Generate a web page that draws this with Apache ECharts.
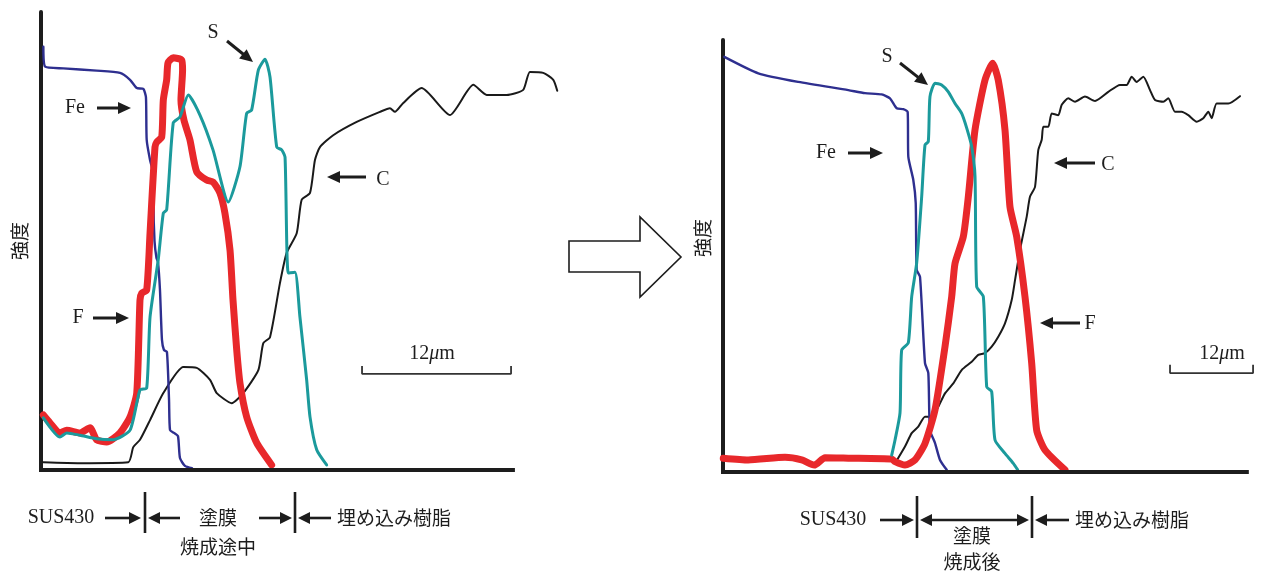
<!DOCTYPE html>
<html><head><meta charset="utf-8">
<script src="https://cdn.jsdelivr.net/npm/echarts@6/dist/echarts.min.js"></script>
<style>html,body{margin:0;padding:0;background:#fff}#c{width:1284px;height:572px}</style>
</head><body><div id="c"></div>
<script>
// ---- Data: position (μm) vs intensity (a.u., 0-100) ----
// Left panel: 塗膜焼成途中
const leftFe = [[0.19,92.4],[0.32,88.1],[1.80,87.7],[4.48,87.2],[6.36,86.7],[7.17,85.2],[7.71,83.4],[8.24,83.2],[8.45,81.4],[8.51,72.1],[8.78,67.7],[9.10,64.0],[9.06,58.7],[9.14,50.0],[9.30,46.3],[9.42,45.4],[9.58,39.3],[9.74,28.4],[9.90,26.2],[10.14,25.8],[10.31,15.3],[10.39,8.7],[10.71,8.1],[11.03,7.4],[11.19,2.6],[11.59,0.9],[12.16,0.4]];
const leftF = [[0.19,12.0],[0.72,10.3],[1.53,8.1],[2.07,8.7],[3.14,8.1],[3.95,9.2],[4.48,6.6],[5.29,6.1],[6.36,8.1],[7.17,11.6],[7.71,16.8],[7.97,37.1],[8.11,38.6],[8.51,39.3],[8.78,51.7],[9.18,70.5],[9.32,71.6],[9.72,72.7],[9.85,80.8],[10.12,85.2],[10.23,88.9],[10.65,90.0],[11.33,89.5],[11.40,87.3],[11.27,80.8],[11.51,76.4],[11.99,72.1],[12.54,65.1],[13.34,63.3],[13.85,62.9],[14.41,60.5],[14.81,56.1],[15.22,48.0],[15.46,37.1],[15.76,26.2],[16.02,19.0],[16.56,11.6],[17.37,5.9],[18.57,1.1]];
const leftS = [[0.19,11.4],[1.53,7.2],[2.07,8.1],[3.14,7.6],[4.48,6.8],[5.80,6.6],[7.17,8.7],[7.97,17.5],[8.51,17.9],[8.78,33.4],[9.44,45.9],[9.85,56.1],[10.12,56.8],[10.65,75.8],[11.19,77.1],[11.86,81.9],[12.80,77.5],[13.85,69.9],[15.08,58.5],[16.02,66.2],[16.56,77.9],[16.96,78.6],[17.50,87.3],[18.04,89.7],[18.44,85.8],[18.98,70.5],[19.38,69.9],[19.65,68.3],[19.91,43.0],[20.45,43.2],[20.85,33.4],[21.39,19.7],[21.66,11.6],[22.20,4.4],[23.00,1.1]];
const leftC = [[0.19,1.7],[3.14,1.5],[7.03,1.7],[7.43,5.0],[7.97,6.6],[8.78,10.9],[9.85,16.8],[11.46,22.5],[12.54,22.3],[13.61,19.7],[14.15,16.8],[15.35,14.6],[16.29,16.8],[17.50,21.8],[17.90,27.7],[18.44,29.0],[19.24,40.8],[19.78,47.4],[20.59,51.7],[20.99,59.0],[21.66,60.5],[22.06,67.7],[22.46,70.5],[23.53,73.1],[25.42,76.0],[27.29,78.2],[28.10,79.0],[28.50,78.2],[29.15,80.1],[30.65,83.4],[32.93,77.5],[34.81,84.1],[35.89,81.9],[37.50,81.9],[38.83,83.0],[39.37,86.9],[40.44,86.7],[41.25,85.2],[41.57,82.8]];
const leftScale = [[25.85,22.7],[25.85,21.0],[37.85,21.0],[37.85,22.7]];
const leftAxisEnd = 38;

// Right panel: 塗膜焼成後
const rightFe = [[0.19,96.1],[5.10,92.3],[10.88,90.3],[18.11,88.4],[20.52,87.7],[22.93,87.4],[24.13,86.5],[25.10,84.2],[26.05,84.0],[26.69,83.3],[26.78,73.0],[27.50,67.6],[27.85,62.3],[27.99,46.8],[28.47,45.2],[29.19,25.2],[29.67,22.9],[29.91,9.7],[30.64,6.7],[31.36,2.8],[32.33,0.5]];
const rightS = [[24.38,3.9],[24.86,7.4],[25.58,13.7],[25.82,28.2],[26.78,29.9],[27.27,40.6],[27.99,48.4],[28.71,63.7],[29.19,75.7],[29.67,76.5],[29.91,86.9],[30.64,90.0],[31.60,89.6],[32.56,88.0],[33.53,85.3],[34.49,83.0],[35.22,79.6],[35.94,75.3],[36.42,68.4],[36.66,42.9],[37.62,40.6],[38.11,19.7],[38.83,18.6],[39.31,7.4],[40.75,4.3],[41.95,2.0],[42.59,0.5]];
const rightF = [[0.04,3.2],[3.66,2.8],[8.96,3.4],[11.37,2.8],[13.19,1.6],[14.74,3.3],[18.11,3.2],[24.38,3.0],[24.86,2.4],[26.30,1.6],[27.75,2.8],[29.19,6.6],[30.64,14.4],[32.08,29.0],[33.05,40.6],[33.53,48.3],[34.73,54.5],[35.45,63.7],[36.42,79.2],[37.86,90.7],[38.97,94.6],[39.78,90.7],[40.75,79.2],[41.47,61.4],[42.44,54.5],[43.64,40.6],[44.61,25.2],[45.33,9.7],[46.53,5.1],[49.42,0.5]];
const rightC = [[24.86,2.0],[26.30,5.9],[27.27,9.0],[28.22,10.5],[29.19,12.8],[30.16,12.8],[31.11,15.1],[32.08,18.2],[33.28,20.5],[34.49,23.6],[35.94,25.5],[36.89,27.1],[37.86,27.5],[38.83,29.0],[39.78,31.3],[40.75,34.4],[41.72,39.8],[42.20,44.4],[42.92,51.4],[43.89,59.1],[44.36,63.7],[45.09,66.0],[45.56,74.5],[46.06,76.9],[46.29,79.9],[47.01,79.9],[47.50,83.0],[48.45,82.6],[48.95,85.0],[49.90,86.5],[50.87,85.7],[52.31,86.9],[53.76,85.9],[55.68,88.0],[57.37,89.6],[58.34,89.6],[59.06,91.5],[59.78,90.3],[60.74,91.5],[61.71,88.4],[62.43,86.1],[63.63,85.7],[64.35,86.5],[65.32,83.4],[66.29,83.4],[67.24,82.6],[68.45,81.1],[69.41,81.9],[70.13,83.4],[70.62,81.9],[71.34,85.3],[73.02,85.3],[74.71,87.0]];
const rightScale = [[64.6,24.8],[64.6,22.9],[76.6,22.9],[76.6,24.8]];
const rightAxisEnd = 75.7;

const scaleLabel = '12{i|μ}m';
const yLabel = '強度';
const bottomLeft = {sub: 'SUS430', film: ['塗膜', '焼成途中'], resin: '埋め込み樹脂'};
const bottomRight = {sub: 'SUS430', film: ['塗膜', '焼成後'], resin: '埋め込み樹脂'};

// ---- Styles ----
const SERIF = "'Liberation Serif','DejaVu Serif',serif";
const CJK = "'Noto Sans CJK JP','Noto Sans CJK SC',sans-serif";
const INK = '#1d1d1d';
const COL = {Fe: '#2e2f8f', S: '#1b9a9c', F: '#e8282b', C: '#1a1a1a'};
const W = {Fe: 2.4, S: 3, F: 7, C: 2};

function axisX(grid, max) {
  return {type: 'value', gridIndex: grid, min: 0, max: max,
    axisLine: {show: false}, axisTick: {show: false}, axisLabel: {show: false}, splitLine: {show: false}};
}
function axisY(grid) {
  return {type: 'value', gridIndex: grid, min: 0, max: 100,
    axisLine: {show: true, lineStyle: {color: INK, width: 4}},
    axisTick: {show: false}, axisLabel: {show: false}, splitLine: {show: false}};
}
function curve(name, data, gi, key, z) {
  return {type: 'line', name: name, xAxisIndex: gi, yAxisIndex: gi, data: data,
    showSymbol: false, symbol: 'none', smooth: 0.2, clip: false, silent: true, z: z,
    lineStyle: {color: COL[key], width: W[key], cap: 'round', join: 'round'}};
}
function scaleBar(data, gi) {
  return {type: 'line', xAxisIndex: gi, yAxisIndex: gi, data: data, showSymbol: false,
    symbol: 'none', clip: false, silent: true, z: 5,
    lineStyle: {color: '#333', width: 1.8}};
}
function baseline(end, gi) {
  return {type: 'line', xAxisIndex: gi, yAxisIndex: gi, data: [[0, 0], [end, 0]], showSymbol: false,
    symbol: 'none', clip: false, silent: true, z: 10,
    lineStyle: {color: INK, width: 4, cap: 'square'}};
}

// annotation helpers (pixel layer)
const G = [];
function arrow(x1, y1, x2, y2, lw, hl, hw) {
  lw = lw || 3; hl = hl || 13; hw = hw || 6;
  const dx = x2 - x1, dy = y2 - y1, L = Math.hypot(dx, dy);
  const ux = dx / L, uy = dy / L, nx = -uy, ny = ux;
  const bx = x2 - ux * hl, by = y2 - uy * hl;
  G.push({type: 'line', shape: {x1: x1, y1: y1, x2: bx + ux, y2: by + uy}, style: {stroke: INK, lineWidth: lw}, z: 100});
  G.push({type: 'polygon', shape: {points: [[x2, y2], [bx + nx * hw, by + ny * hw], [bx - nx * hw, by - ny * hw]]}, style: {fill: INK}, z: 100});
}
function text(str, x, y, font, align, rot, rich) {
  G.push({type: 'text', x: x, y: y, rotation: rot || 0, z: 100,
    style: {text: str, font: font, fill: INK, align: align || 'center', verticalAlign: 'middle',
      textAlign: align || 'center', textVerticalAlign: 'middle', rich: rich}});
}
function vbar(x, y1, y2) {
  G.push({type: 'line', shape: {x1: x, y1: y1, x2: x, y2: y2}, style: {stroke: INK, lineWidth: 2.6}, z: 100});
}

const LAB = '20px ' + SERIF;
const JP = '19px ' + CJK;
const richMu = {i: {fontStyle: 'italic', font: 'italic 20px ' + SERIF, fill: INK}};

// left panel labels
text('S', 213, 33, LAB); arrow(227, 41, 253, 62);
text('Fe', 75, 108, LAB); arrow(97, 108, 131, 108);
text('F', 78, 318, LAB); arrow(93, 318, 129, 318);
text('C', 383, 180, LAB); arrow(366, 177, 327, 177);
text(scaleLabel, 432, 354, LAB, 'center', 0, richMu);
text(yLabel, 20, 241, JP, 'center', Math.PI / 2);
// right panel labels
text('S', 887, 57, LAB); arrow(900, 63, 928, 85);
text('Fe', 826, 153, LAB); arrow(848, 153, 883, 153);
text('C', 1108, 165, LAB); arrow(1095, 163, 1054, 163);
text('F', 1090, 324, LAB); arrow(1080, 323, 1040, 323);
text(scaleLabel, 1222, 354, LAB, 'center', 0, richMu);
text(yLabel, 703, 238, JP, 'center', Math.PI / 2);

// big hollow arrow
G.push({type: 'polygon', z: 100,
  shape: {points: [[569, 241], [640, 241], [640, 217], [681, 257], [640, 297], [640, 272], [569, 272]]},
  style: {fill: '#fff', stroke: INK, lineWidth: 1.6}});

// bottom annotation, left
text(bottomLeft.sub, 61, 518, LAB);
arrow(105, 518, 141, 518, 2.6, 12, 6);
vbar(145, 492, 533);
arrow(180, 518, 148, 518, 2.6, 12, 6);
text(bottomLeft.film[0], 218, 518, JP);
text(bottomLeft.film[1], 218, 547, JP);
arrow(259, 518, 292, 518, 2.6, 12, 6);
vbar(295, 492, 533);
arrow(331, 518, 298, 518, 2.6, 12, 6);
text(bottomLeft.resin, 337, 518, JP, 'left');

// bottom annotation, right
text(bottomRight.sub, 833, 520, LAB);
arrow(880, 520, 914, 520, 2.6, 12, 6);
vbar(917, 496, 538);
arrow(975, 520, 920, 520, 2.6, 12, 6);
arrow(975, 520, 1029, 520, 2.6, 12, 6);
vbar(1032, 496, 538);
arrow(1069, 520, 1035, 520, 2.6, 12, 6);
text(bottomRight.resin, 1075, 520, JP, 'left');
text(bottomRight.film[0], 972, 536, JP);
text(bottomRight.film[1], 972, 562, JP);

const chart = echarts.init(document.getElementById('c'), null, {renderer: 'canvas'});
chart.setOption({
  backgroundColor: '#ffffff',
  animation: false,
  // grids extend past the drawn axis so C curve / scale bar fit inside
  grid: [{left: 41, top: 12, width: 517, height: 458}, {left: 723, top: 40, width: 532, height: 432}],
  xAxis: [axisX(0, 41.63), axisX(1, 76.88)],
  yAxis: [axisY(0), axisY(1)],
  series: [
    curve('C', leftC, 0, 'C', 2), curve('Fe', leftFe, 0, 'Fe', 3), curve('F', leftF, 0, 'F', 4), curve('S', leftS, 0, 'S', 6),
    scaleBar(leftScale, 0), baseline(leftAxisEnd, 0),
    curve('C', rightC, 1, 'C', 2), curve('Fe', rightFe, 1, 'Fe', 3), curve('F', rightF, 1, 'F', 4), curve('S', rightS, 1, 'S', 6),
    scaleBar(rightScale, 1), baseline(rightAxisEnd, 1)
  ],
  graphic: {elements: G}
});
</script>
</body></html>
